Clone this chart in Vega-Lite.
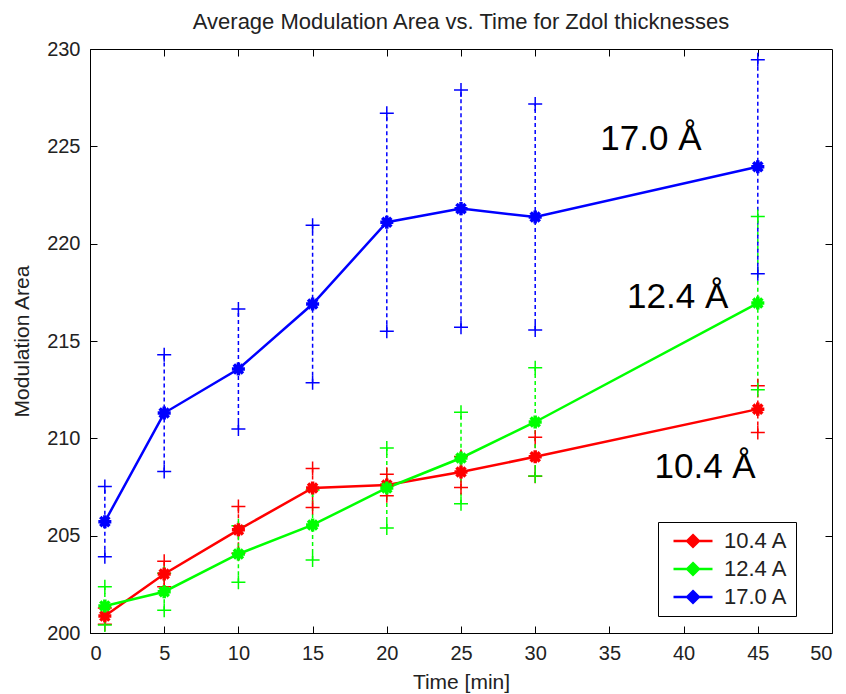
{
  "$schema": "https://vega.github.io/schema/vega-lite/v6.json",
  "width": 742,
  "height": 584,
  "autosize": {"type": "none"},
  "padding": {"left": 90, "top": 49, "right": 14, "bottom": 61},
  "background": "white",
  "title": {"text": "Average Modulation Area vs. Time for Zdol thicknesses", "fontSize": 22, "font": "Liberation Sans", "fontWeight": "normal", "color": "#222", "anchor": "middle", "offset": 5},
  "config": {
    "view": {"stroke": "black", "strokeWidth": 1},
    "axis": {"grid": false, "domainColor": "black", "tickColor": "black", "labelColor": "#222", "titleColor": "#222", "labelFont": "Liberation Sans", "titleFont": "Liberation Sans", "labelFontSize": 20, "titleFontSize": 21, "titleFontWeight": "normal", "tickSize": -7, "labelPadding": 17}
  },
  "datasets": {
    "pts": [
      {"series": "10.4 A", "time": 1, "mean": 200.87, "lo": 200.45, "hi": 201.29},
      {"series": "10.4 A", "time": 5, "mean": 203.03, "lo": 202.38, "hi": 203.68},
      {"series": "10.4 A", "time": 10, "mean": 205.3, "lo": 204.1, "hi": 206.5},
      {"series": "10.4 A", "time": 15, "mean": 207.45, "lo": 206.45, "hi": 208.45},
      {"series": "10.4 A", "time": 20, "mean": 207.6, "lo": 207.05, "hi": 208.15},
      {"series": "10.4 A", "time": 25, "mean": 208.27, "lo": 207.47, "hi": 209.07},
      {"series": "10.4 A", "time": 30, "mean": 209.05, "lo": 208.05, "hi": 210.05},
      {"series": "10.4 A", "time": 45, "mean": 211.5, "lo": 210.3, "hi": 212.7},
      {"series": "12.4 A", "time": 1, "mean": 201.39, "lo": 200.41, "hi": 202.37},
      {"series": "12.4 A", "time": 5, "mean": 202.12, "lo": 201.17, "hi": 203.07},
      {"series": "12.4 A", "time": 10, "mean": 204.06, "lo": 202.61, "hi": 205.51},
      {"series": "12.4 A", "time": 15, "mean": 205.55, "lo": 203.75, "hi": 207.35},
      {"series": "12.4 A", "time": 20, "mean": 207.45, "lo": 205.4, "hi": 209.5},
      {"series": "12.4 A", "time": 25, "mean": 208.99, "lo": 206.64, "hi": 211.34},
      {"series": "12.4 A", "time": 30, "mean": 210.84, "lo": 208.06, "hi": 213.62},
      {"series": "12.4 A", "time": 45, "mean": 216.95, "lo": 212.5, "hi": 221.4},
      {"series": "17.0 A", "time": 1, "mean": 205.72, "lo": 203.92, "hi": 207.52},
      {"series": "17.0 A", "time": 5, "mean": 211.3, "lo": 208.3, "hi": 214.3},
      {"series": "17.0 A", "time": 10, "mean": 213.56, "lo": 210.48, "hi": 216.64},
      {"series": "17.0 A", "time": 15, "mean": 216.9, "lo": 212.85, "hi": 220.95},
      {"series": "17.0 A", "time": 20, "mean": 221.1, "lo": 215.5, "hi": 226.7},
      {"series": "17.0 A", "time": 25, "mean": 221.8, "lo": 215.7, "hi": 227.9},
      {"series": "17.0 A", "time": 30, "mean": 221.37, "lo": 215.57, "hi": 227.17},
      {"series": "17.0 A", "time": 45, "mean": 223.95, "lo": 218.45, "hi": 229.45}
    ],
    "labels": [
      {"label": "17.0 Å", "time": 37.8, "value": 224.8},
      {"label": "12.4 Å", "time": 39.6, "value": 216.7},
      {"label": "10.4 Å", "time": 41.45, "value": 207.96}
    ]
  },
  "layer": [
    {
      "data": {"name": "pts"},
      "mark": {"type": "rule", "strokeWidth": 1.5, "strokeDash": [4, 3]},
      "encoding": {
        "x": {"field": "time", "type": "quantitative", "scale": {"domain": [0, 50], "nice": false, "zero": false}, "axis": {"values": [0, 5, 10, 15, 20, 25, 30, 35, 40, 45, 50], "title": "Time [min]", "titlePadding": 8}},
        "y": {"field": "lo", "type": "quantitative", "scale": {"domain": [200, 230], "nice": false, "zero": false}, "axis": {"values": [200, 205, 210, 215, 220, 225, 230], "title": "Modulation Area", "titlePadding": 14}},
        "y2": {"field": "hi"},
        "color": {"field": "series", "type": "nominal", "scale": {"domain": ["10.4 A", "12.4 A", "17.0 A"], "range": ["#ff0000", "#00ff00", "#0000ff"]}, "legend": {"title": null, "orient": "none", "legendX": 568, "legendY": 473, "padding": 8, "strokeColor": "black", "fillColor": "white", "labelFont": "Liberation Sans", "labelFontSize": 22, "labelColor": "#222", "labelExpr": "datum.label + '\u00a0\u00a0'", "symbolType": "M-3,0L3,0M0,-0.9L0.9,0L0,0.9L-0.9,0Z", "symbolSize": 169, "symbolStrokeWidth": 2.5, "symbolOffset": 16, "labelOffset": 20, "rowPadding": 6, "symbolDash": [], "encode": {"symbols": {"update": {"fill": {"scale": "color", "field": "value"}, "stroke": {"scale": "color", "field": "value"}, "strokeDash": {"value": []}, "opacity": {"value": 1}}}}}}
      }
    },
    {
      "data": {"name": "pts"},
      "transform": [{"fold": ["lo", "hi"], "as": ["end", "v"]}],
      "mark": {"type": "point", "shape": "M-1,0L1,0M0,-1L0,1", "size": 196, "strokeWidth": 1.5, "filled": false, "opacity": 1},
      "encoding": {
        "x": {"field": "time", "type": "quantitative", "axis": null},
        "y": {"field": "v", "type": "quantitative", "axis": null},
        "color": {"field": "series", "type": "nominal"}
      }
    },
    {
      "data": {"name": "pts"},
      "mark": {"type": "line", "strokeWidth": 2.5},
      "encoding": {
        "x": {"field": "time", "type": "quantitative", "axis": null},
        "y": {"field": "mean", "type": "quantitative", "axis": null},
        "color": {"field": "series", "type": "nominal"}
      }
    },
    {
      "data": {"name": "pts"},
      "mark": {"type": "point", "shape": "M-1,0L1,0M0,-1L0,1M-0.7,-0.7L0.7,0.7M-0.7,0.7L0.7,-0.7", "size": 170, "strokeWidth": 3.5, "filled": false, "opacity": 1},
      "encoding": {
        "x": {"field": "time", "type": "quantitative", "axis": null},
        "y": {"field": "mean", "type": "quantitative", "axis": null},
        "color": {"field": "series", "type": "nominal"}
      }
    },
    {
      "data": {"name": "labels"},
      "mark": {"type": "text", "font": "Liberation Sans", "fontSize": 35, "color": "black", "align": "center", "baseline": "alphabetic"},
      "encoding": {
        "x": {"field": "time", "type": "quantitative", "axis": null},
        "y": {"field": "value", "type": "quantitative", "axis": null},
        "text": {"field": "label"}
      }
    },
    {
      "data": {"name": "pts"},
      "mark": {"type": "point", "opacity": 0},
      "encoding": {
        "x": {"field": "time", "type": "quantitative", "axis": {"orient": "top", "values": [5, 10, 15, 20, 25, 30, 35, 40, 45], "labels": false, "title": null, "domain": false}},
        "y": {"field": "mean", "type": "quantitative", "axis": {"orient": "right", "values": [205, 210, 215, 220, 225], "labels": false, "title": null, "domain": false}}
      }
    }
  ],
  "resolve": {"axis": {"x": "independent", "y": "independent"}}
}
